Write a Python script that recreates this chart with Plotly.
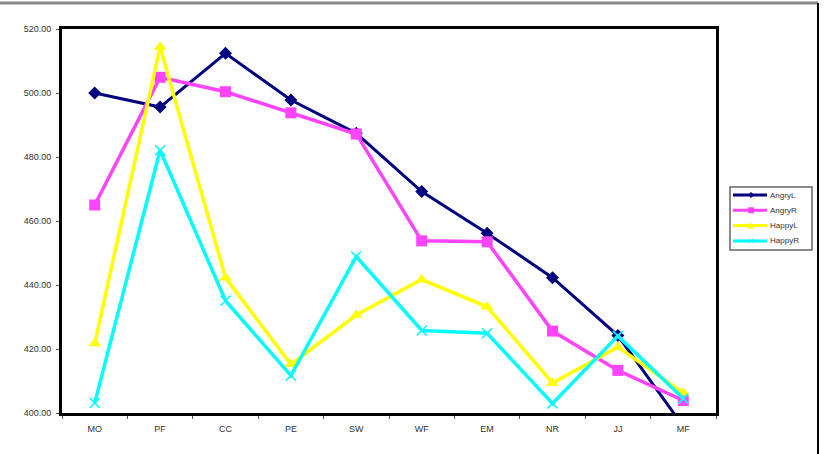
import plotly.graph_objects as go

categories = ["MO", "PF", "CC", "PE", "SW", "WF", "EM", "NR", "JJ", "MF"]
angry_l = [500.0, 495.6, 512.4, 497.8, 487.4, 469.2, 456.2, 442.3, 424.2, 395.8]
angry_r = [465.0, 504.9, 500.4, 493.8, 487.2, 453.8, 453.5, 425.6, 413.3, 403.9]
happy_l = [421.7, 514.4, 442.3, 415.2, 430.6, 441.7, 433.2, 409.4, 420.6, 406.3]
happy_r = [403.1, 482.1, 435.1, 411.7, 448.9, 425.8, 424.9, 403.0, 424.1, 404.5]

series = [
    ("AngryL", angry_l, "#000080", "diamond", 10, 3),
    ("AngryR", angry_r, "#FF44FF", "square", 11, 3.5),
    ("HappyL", happy_l, "#FFFF00", "triangle-up", 11, 3.5),
    ("HappyR", happy_r, "#00FFFF", "x-thin", 10, 3.5),
]

L, R, T, B = 62, 110, 29, 41
W, H = 826, 454
pw, ph = W - L - R, H - T - B


def px_x(p):
    return (p - L) / pw


def px_y(p):
    return (H - B - p) / ph


fig = go.Figure()
for name, vals, color, sym, msize, lw in series:
    marker = dict(symbol=sym, size=msize, color=color)
    if sym == "x-thin":
        marker["line"] = dict(color=color, width=1.5)
    fig.add_trace(go.Scatter(
        x=categories, y=vals, name=name, mode="lines+markers",
        line=dict(color=color, width=lw), marker=marker, cliponaxis=True,
        showlegend=False,
    ))

# custom compact legend (box, line samples, small markers, labels)
shapes = [
    dict(type="line", xref="paper", yref="paper",
         x0=px_x(0), x1=px_x(818), y0=px_y(3), y1=px_y(3),
         line=dict(color="#888888", width=3)),
    dict(type="line", xref="paper", yref="paper",
         x0=px_x(818), x1=px_x(818), y0=px_y(3), y1=px_y(454),
         line=dict(color="black", width=2)),
    dict(type="rect", xref="paper", yref="paper",
         x0=px_x(730), x1=px_x(812), y0=px_y(250), y1=px_y(187),
         line=dict(color="#666666", width=1.5), fillcolor="white"),
]
annotations = []
leg_x0, leg_x1, leg_mx, txt_x = 733, 767, 751, 768
for i, (name, vals, color, sym, msize, lw) in enumerate(series):
    yy = 195 + i * 15.3
    shapes.append(dict(type="line", xref="paper", yref="paper",
                       x0=px_x(leg_x0), x1=px_x(leg_x1), y0=px_y(yy), y1=px_y(yy),
                       line=dict(color=color, width=3)))
    s = 2.5
    if sym == "diamond":
        path = "M {} {} L {} {} L {} {} L {} {} Z".format(
            px_x(leg_mx), px_y(yy - s), px_x(leg_mx + s), px_y(yy),
            px_x(leg_mx), px_y(yy + s), px_x(leg_mx - s), px_y(yy))
        shapes.append(dict(type="path", xref="paper", yref="paper", path=path,
                           fillcolor=color, line=dict(color=color, width=1)))
    elif sym == "square":
        shapes.append(dict(type="rect", xref="paper", yref="paper",
                           x0=px_x(leg_mx - s), x1=px_x(leg_mx + s),
                           y0=px_y(yy + s), y1=px_y(yy - s),
                           fillcolor=color, line=dict(color=color, width=1)))
    elif sym == "triangle-up":
        path = "M {} {} L {} {} L {} {} Z".format(
            px_x(leg_mx), px_y(yy - s), px_x(leg_mx + s), px_y(yy + s),
            px_x(leg_mx - s), px_y(yy + s))
        shapes.append(dict(type="path", xref="paper", yref="paper", path=path,
                           fillcolor=color, line=dict(color=color, width=1)))
    else:
        for dy in (-1, 1):
            shapes.append(dict(type="line", xref="paper", yref="paper",
                               x0=px_x(leg_mx - s), x1=px_x(leg_mx + s),
                               y0=px_y(yy - dy * s), y1=px_y(yy + dy * s),
                               line=dict(color=color, width=1)))
    annotations.append(dict(
        xref="paper", yref="paper", x=px_x(txt_x), y=px_y(yy),
        xanchor="left", yanchor="middle", text=name, showarrow=False,
        font=dict(size=8, color="#333333"),
    ))

fig.update_layout(
    width=W, height=H,
    margin=dict(l=L, r=R, t=T, b=B, pad=0),
    paper_bgcolor="white", plot_bgcolor="white",
    font=dict(family="Liberation Sans, Arial, sans-serif", size=9, color="#333333"),
    showlegend=False,
    xaxis=dict(
        showgrid=False, zeroline=False, showline=True, linewidth=3,
        linecolor="black", mirror=True, ticks="outside", ticklen=3,
        tickcolor="#555555", tickson="boundaries", tickfont=dict(size=9),
        range=[-0.5, 9.5], ticklabelstandoff=5,
    ),
    yaxis=dict(
        range=[400, 520], dtick=20, tickformat=".2f",
        showgrid=False, zeroline=False, showline=True, linewidth=3,
        linecolor="black", mirror=True, ticks="outside", ticklen=3,
        tickcolor="#555555", tickfont=dict(size=9), ticklabelstandoff=3,
    ),
    shapes=shapes,
    annotations=annotations,
)

fig.write_html("out.html", config={"displayModeBar": False})
